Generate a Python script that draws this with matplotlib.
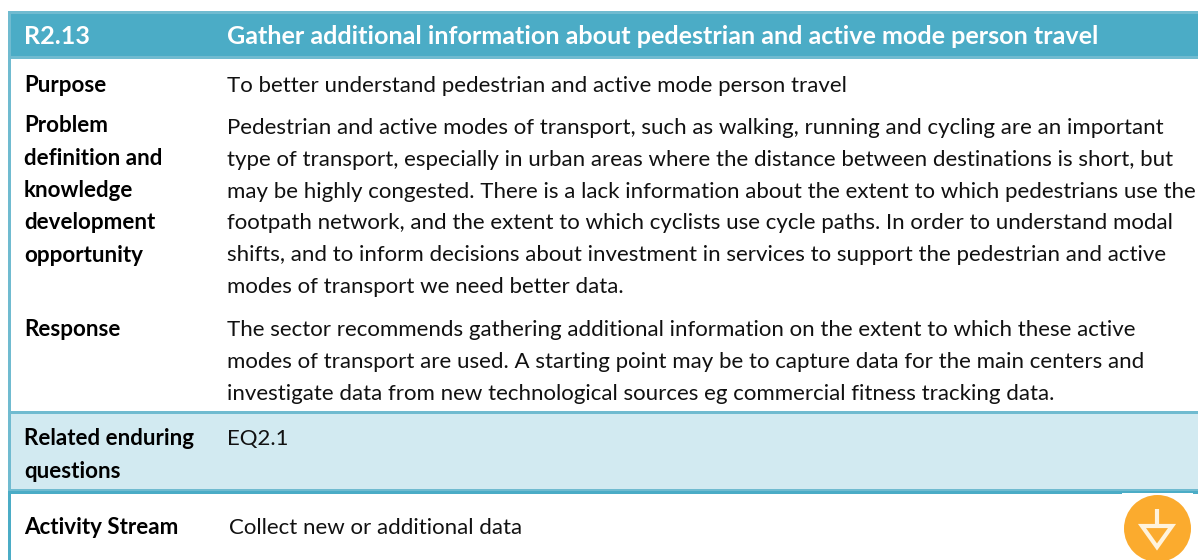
import matplotlib
matplotlib.use("Agg")
import matplotlib.pyplot as plt
from matplotlib.patches import Rectangle, Circle, Polygon

plt.rcParams['font.family'] = ['Lato', 'DejaVu Sans']

header = ["R2.13", "Gather additional information about pedestrian and active mode person travel"]
row_labels = ["Purpose",
              "Problem\ndefinition and\nknowledge\ndevelopment\nopportunity",
              "Response",
              "Related enduring\nquestions",
              "Activity Stream"]
row_texts = ["To better understand pedestrian and active mode person travel",
             "Pedestrian and active modes of transport, such as walking, running and cycling are an important\n"
             "type of transport, especially in urban areas where the distance between destinations is short, but\n"
             "may be highly congested. There is a lack information about the extent to which pedestrians use the\n"
             "footpath network, and the extent to which cyclists use cycle paths. In order to understand modal\n"
             "shifts, and to inform decisions about investment in services to support the pedestrian and active\n"
             "modes of transport we need better data.",
             "The sector recommends gathering additional information on the extent to which these active\n"
             "modes of transport are used. A starting point may be to capture data for the main centers and\n"
             "investigate data from new technological sources eg commercial fitness tracking data.",
             "EQ2.1",
             "Collect new or additional data"]
label_y = [86, 190.5, 330, 455, 528]
text_y = [86, 207.5, 362, 439, 528]
text_x = [227, 227, 227, 227, 229]

fig = plt.figure(figsize=(11.98, 5.6), dpi=100)
ax = fig.add_axes([0, 0, 1, 1])
ax.set_xlim(0, 1198)
ax.set_ylim(560, 0)
ax.axis('off')

def box(x, y, w, h, c):
    ax.add_patch(Rectangle((x, y), w, h, fc=c, ec='none'))

# borders and fills
box(8, 11, 1190, 48, '#70BBD0')
box(11, 14, 1187, 42, '#4BACC6')
box(8, 59, 3, 352, '#70BBD0')
box(8, 411, 1190, 83, '#70BBD0')
box(11, 414, 1187, 75, '#D2EAF1')
box(8, 491, 1190, 3, '#4BACC6')
box(8, 494, 3, 66, '#4BACC6')

# icon
box(1122, 493, 71, 67, 'white')
ax.add_patch(Circle((1157.5, 528.5), 33.5, fc='#FBAB2E', ec='none'))
ax.plot([1156.5, 1156.5], [509, 526], color='#FFF3DC', lw=3, solid_capstyle='butt')
ax.add_patch(Polygon([[1142, 526], [1172, 526], [1157, 547]], closed=True, fc='none', ec='#FFF3DC', lw=3))

ax.text(24, 37, header[0], color='white', fontsize=18.1, fontweight='bold', va='center')
ax.text(227, 37, header[1], color='white', fontsize=18.1, fontweight='bold', va='center')

for i in range(len(row_labels)):
    ax.text(24, label_y[i], row_labels[i], color='black', fontsize=16.1, fontweight='bold',
            va='center', linespacing=1.67)
    ax.text(text_x[i], text_y[i], row_texts[i], color='#111111', fontsize=16,
            va='center', linespacing=1.73)

fig.savefig('out.png', dpi=100)
